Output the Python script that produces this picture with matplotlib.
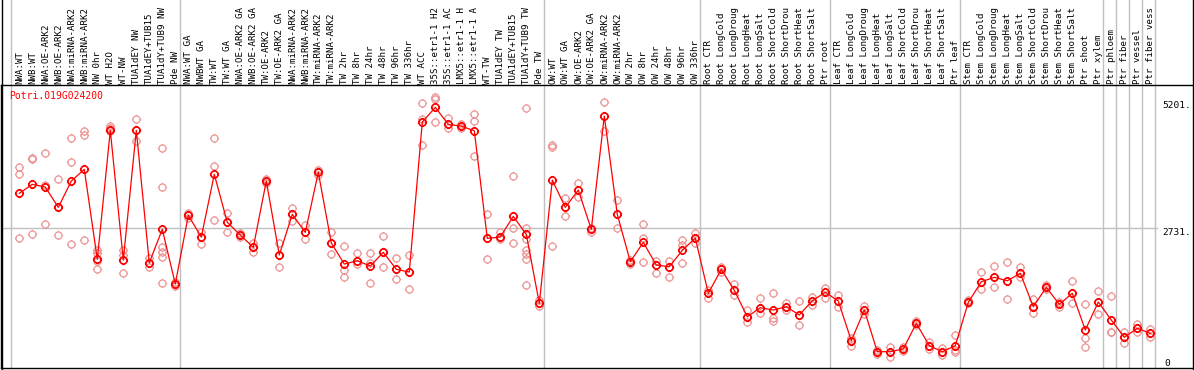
import matplotlib
matplotlib.use("Agg")
import matplotlib.pyplot as plt
import numpy as np
from matplotlib.path import Path
from matplotlib.lines import Line2D
import matplotlib.transforms as mtransforms

# ---------------- data ----------------
gene_id = "Potri.019G024200"

categories = [
    "NWA:WT", "NWB:WT", "NWA:OE-ARK2", "NWB:OE-ARK2", "NWA:miRNA-ARK2", "NWB:miRNA-ARK2",
    "NW 0hr", "WT H2O", "WT-NW", "TUA1dEY NW", "TUA1dEY+TUB15", "TUA1dY+TUB9 NW", "Pde NW",
    "NWA:WT GA", "NWBWT GA", "TW:WT", "TW:WT GA", "NWA:OE-ARK2 GA", "NWB:OE-ARK2 GA",
    "TW:OE-ARK2", "TW:OE-ARK2 GA", "NWA:miRNA-ARK2", "NWB:miRNA-ARK2", "TW:miRNA-ARK2",
    "TW:miRNA-ARK2", "TW 2hr", "TW 8hr", "TW 24hr", "TW 48hr", "TW 96hr", "TW 336hr",
    "WT ACC", "35S::etr1-1 H2", "35S::etr1-1 AC", "LMX5::etr1-1 H", "LMX5::etr1-1 A",
    "WT-TW", "TUA1dEY TW", "TUA1dEY+TUB15", "TUA1dY+TUB9 TW", "Pde TW",
    "OW:WT", "OW:WT GA", "OW:OE-ARK2", "OW:OE-ARK2 GA", "OW:miRNA-ARK2", "OW:miRNA-ARK2",
    "OW 2hr", "OW 8hr", "OW 24hr", "OW 48hr", "OW 96hr", "OW 336hr",
    "Root CTR", "Root LongCold", "Root LongDroug", "Root LongHeat", "Root LongSalt",
    "Root ShortCold", "Root ShortDrou", "Root ShortHeat", "Root ShortSalt", "Ptr root",
    "Leaf CTR", "Leaf LongCold", "Leaf LongDroug", "Leaf LongHeat", "Leaf LongSalt",
    "Leaf ShortCold", "Leaf ShortDrou", "Leaf ShortHeat", "Leaf ShortSalt", "Ptr leaf",
    "Stem CTR", "Stem LongCold", "Stem LongDroug", "Stem LongHeat", "Stem LongSalt",
    "Stem ShortCold", "Stem ShortDrou", "Stem ShortHeat", "Stem ShortSalt", "Ptr shoot",
    "Ptr xylem", "Ptr phloem", "Ptr fiber", "Ptr vessel", "Ptr fiber vess",
]

mean_values = [
    3407, 3582, 3530, 3134, 3647, 3875, 2120, 4635, 2106, 4635, 2053, 2705, 1638,
    2978, 2555, 3777, 2841, 2594, 2354, 3647, 2204, 2997, 2646, 3816, 2438,
    2028, 2092, 1989, 2256, 1925, 1872, 4797, 5084, 4752, 4719, 4627,
    2529, 2555, 2958, 2607, 1262,
    3666, 3134, 3471, 2705, 4914, 2997, 2073, 2451, 2009, 1975, 2295, 2535,
    1457, 1925, 1515, 1000, 1176, 1131, 1195, 1034, 1312, 1476,
    1307, 532, 1131, 318, 318, 371, 872, 435, 318, 435,
    1281, 1683, 1769, 1702, 1847, 1195, 1574, 1242, 1457, 741,
    1287, 936, 599, 774, 677,
]

replicate_values = [
    [3914, 3783, 2529], [4101, 4070, 2613], [4187, 3569, 2802], [3680, 3140, 2594],
    [4479, 4011, 2418], [4622, 4544, 2490], [2301, 2243, 2087, 1925], [4719, 4680, 4622],
    [2301, 2204, 1847], [4850, 4635, 4432], [2139, 2053, 1975],
    [4284, 3535, 2365, 2268, 2170, 1651], [1677, 1638, 1599],
    [3022, 2978, 2925], [2658, 2555, 2412], [4496, 3939, 2886], [3016, 2841, 2646],
    [2632, 2594, 2555], [2443, 2354, 2262], [3686, 3647, 3608], [2443, 2204, 1975],
    [3126, 2997, 2867], [2789, 2646, 2516], [3861, 3816, 3764], [2646, 2438, 2223],
    [2379, 1911, 1769], [2237, 2092, 2028], [2237, 2053, 1652], [2574, 2256, 1964],
    [2139, 1925, 1730], [2204, 1872, 1535], [5162, 4850, 4349], [5279, 5240, 4803],
    [4869, 4752, 4674], [4758, 4719, 4680], [4953, 4822, 4134], [2997, 2529, 2120],
    [2658, 2555, 2516], [3744, 2724, 2432],
    [5064, 2724, 2510, 2301, 2223, 2120, 1619], [1326, 1262, 1209],
    [4349, 4304, 2379], [3309, 3134, 2964], [3602, 3471, 3329], [2730, 2705, 2652],
    [5182, 4914, 4627], [3276, 2997, 2724], [2112, 2073, 2034], [2802, 2529, 2073],
    [2092, 2009, 1858], [2092, 1975, 1769], [2496, 2399, 2042], [2627, 2535, 2432],
    [1521, 1457, 1359], [1975, 1925, 1872], [1638, 1515, 1424], [1131, 1000, 891],
    [1359, 1176, 1067], [1457, 969, 922], [1262, 1195, 1131], [1307, 1034, 833],
    [1390, 1312, 1229], [1554, 1476, 1359],
    [1424, 1307, 1195], [585, 532, 429], [1209, 1131, 1053], [357, 318, 279],
    [415, 318, 220], [415, 371, 326], [911, 872, 833], [513, 435, 365],
    [384, 318, 254], [644, 345, 318],
    [1320, 1281, 1262], [1878, 1683, 1535], [1995, 1769, 1574], [2061, 1702, 1340],
    [1975, 1847, 1769], [1340, 1195, 1078], [1613, 1574, 1535], [1293, 1242, 1190],
    [1702, 1457, 1262], [1242, 579, 404],
    [1502, 1287, 1047], [1404, 708, 696], [696, 599, 493], [858, 774, 696],
    [761, 677, 599],
]

# group boundaries: a separator follows each of these category indices
group_ends = [-1, 12, 40, 52, 62, 72, 83, 84, 85, 86, 87]
ytick_values = [5201, 2731, 0]
ytick_labels = ["5201.", "2731.", "0"]

# ---------------- figure ----------------
W, H = 1194, 370
fig = plt.figure(figsize=(W / 100, H / 100), dpi=100)
fig.patch.set_facecolor("white")

top_px, bot_px, left_px, right_px = 85, 368, 1, 1192
ax = fig.add_axes([left_px / W, (H - bot_px) / H, (right_px - left_px) / W, (bot_px - top_px) / H])

xpos = list(range(len(categories)))
step_px = 13.0
x0_px = 19.3
ax.set_xlim((left_px - x0_px) / step_px, (right_px - x0_px) / step_px)
ypx_per_unit = 140.0 / 2731.0
ax.set_ylim(0, (bot_px - top_px) / ypx_per_unit)
ax.set_xticks([])
ax.set_yticks([])
for side in ["left", "right", "top", "bottom"]:
    ax.spines[side].set_linewidth(1.0)
    ax.spines[side].set_color("black")
ax.spines["right"].set_visible(False)

# marker: polygonal circle with 4 small ticks
ang = np.linspace(0, 2 * np.pi, 33)
verts = [(np.cos(a), np.sin(a)) for a in ang]
codes = [Path.MOVETO] + [Path.LINETO] * (len(ang) - 1)
for (a, b, c, d) in [(1, 0, 1.3, 0), (-1, 0, -1.3, 0), (0, 1, 0, 1.3), (0, -1, 0, -1.3)]:
    verts += [(a, b), (c, d)]
    codes += [Path.MOVETO, Path.LINETO]
tick_circle = Path(verts, codes)

grid_col = "#c0c0c0"
# separators (full height, including header)
for g in group_ends:
    ax.axvline(g + 0.36, ymin=0, ymax=bot_px / (bot_px - top_px), color=grid_col,
               lw=1.0, clip_on=False, zorder=0.5)
# horizontal gridline at middle tick
ax.axhline(2731, xmin=0, xmax=(1157 - left_px) / (right_px - left_px), color=grid_col, lw=1.0, zorder=0.5)

# replicates
rx, ry = [], []
for i, reps in enumerate(replicate_values):
    for v in reps:
        rx.append(xpos[i])
        ry.append(v)
ax.plot(rx, ry, linestyle="none", marker=tick_circle, markersize=6.6,
        markerfacecolor="none", markeredgecolor="#ec9494", markeredgewidth=0.9, zorder=2)

# means with line
ax.plot(xpos, mean_values, color="#ff0000", lw=0.9, zorder=3)
ax.plot(xpos, mean_values, linestyle="none", marker=tick_circle, markersize=6.6,
        markerfacecolor="none", markeredgecolor="#ff0000", markeredgewidth=1.2, zorder=4)

mono = "DejaVu Sans Mono"
# gene id
fig.text(9 / W, 1 - 91 / H, gene_id, color="#ff0000", family=mono, fontsize=7.0,
         ha="left", va="top")

# right-side value labels
tr = mtransforms.blended_transform_factory(ax.transAxes, ax.transData)
xfrac = (1162 - left_px) / (right_px - left_px)
for v, lab in zip(ytick_values, ytick_labels):
    if v == 0:
        ax.text(xfrac + 0.002, 8, lab, transform=tr, family=mono, fontsize=6.8,
                ha="left", va="bottom", color="black")
    else:
        ax.text(xfrac, v, lab, transform=tr, family=mono, fontsize=6.8,
                ha="left", va="top", color="black")

# category labels in header
trh = mtransforms.blended_transform_factory(ax.transData, fig.transFigure)
for i, lab in enumerate(categories):
    ax.text(xpos[i] + 0.03, 1 - 83.5 / H, lab, transform=trh, rotation=90, family=mono,
            fontsize=6.6, ha="center", va="bottom", color="black", clip_on=False)

# figure borders (left and right full height)
fig.add_artist(Line2D([1.5 / W, 1.5 / W], [0, 1], color="black", lw=1.0))
fig.add_artist(Line2D([(right_px + 0.5) / W, (right_px + 0.5) / W], [0, 1], color="black", lw=1.0))

fig.savefig("out.png", dpi=100, facecolor="white")
